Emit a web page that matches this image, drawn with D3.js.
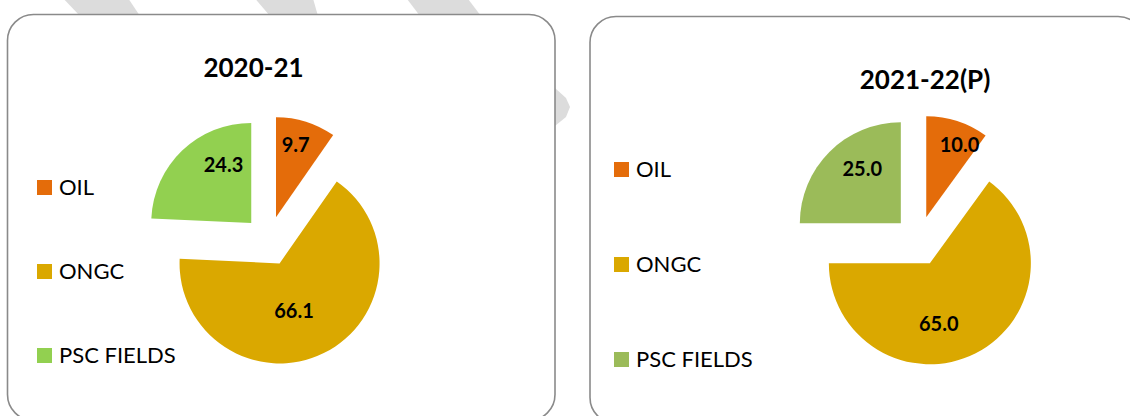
<!DOCTYPE html>
<html><head><meta charset="utf-8">
<script src="https://cdn.jsdelivr.net/npm/d3@7"></script>
<style>html,body{margin:0;padding:0;background:#fff;}svg{display:block;}</style>
</head><body>
<svg id="c" width="1130" height="416"></svg>
<script>
// ---- data ----
const categories = ["OIL", "ONGC", "PSC FIELDS"];
const years = ["2020-21", "2021-22(P)"];
const values2020 = [9.7, 66.1, 24.3];
const values2021 = [10.0, 65.0, 25.0];
const labels2020 = ["9.7", "66.1", "24.3"];
const labels2021 = ["10.0", "65.0", "25.0"];
const colors2020 = ["#E46C0A", "#DAA800", "#92D050"];
const colors2021 = ["#E46C0A", "#DAA800", "#9BBB59"];

// ---- layout ----
const panels = [
  {x: 7.5, y: 14.5, w: 547.5, h: 406, cx: 268.5, cy: 241, r: 100, explode: 25,
   title: years[0], titleX: 253.5, titleY: 76.5, values: values2020, labels: labels2020, colors: colors2020,
   labelPolar: [[15.8, 100], [160, 74.7], [329.5, 88.6]],
   legendX: 37, legendY0: 180, legendStep: 84},
  {x: 590, y: 16.5, w: 554, h: 407, cx: 918.5, cy: 241, r: 101, explode: 25,
   title: years[1], titleX: 925, titleY: 88.5, values: values2021, labels: labels2021, colors: colors2021,
   labelPolar: [[23.1, 104.6], [166.3, 85.6], [321.9, 91.2]],
   legendX: 614, legendY0: 162, legendStep: 95}
];

const svg = d3.select("#c");

// watermark-like grey dashes behind panels
const wm = [
  [[60,-5],[126,-5],[140,16],[80,16]],
  [[252,-5],[312,-5],[318,16],[270,16]],
  [[404,-5],[465,-5],[481,16],[420,16]],
  [[535,70],[566,98],[570,107],[566,117],[540,138]]
];
svg.selectAll("path.wm").data(wm).join("path").attr("class","wm")
  .attr("d", d => d3.line()(d) + "Z").attr("fill", "#dcdcdc");

const FONT = "Lato, 'Open Sans', sans-serif";

panels.forEach(p => {
  const g = svg.append("g");
  g.append("rect").attr("x", p.x).attr("y", p.y).attr("width", p.w).attr("height", p.h)
    .attr("rx", 26).attr("ry", 26).attr("fill", "#fff").attr("stroke", "#8a8a8a").attr("stroke-width", 1.6);

  g.append("text").attr("x", p.titleX).attr("y", p.titleY).attr("text-anchor", "middle")
    .attr("font-family", FONT).attr("font-weight", "bold").attr("font-size", 26).attr("fill", "#000")
    .text(p.title);

  const data = categories.map((c, i) => ({cat: c, value: p.values[i], label: p.labels[i], color: p.colors[i], lp: p.labelPolar[i]}));
  const pie = d3.pie().sort(null).value(d => d.value);
  const arc = d3.arc().innerRadius(0).outerRadius(p.r);
  const arcs = pie(data);

  const pg = g.append("g").attr("transform", `translate(${p.cx},${p.cy})`);
  pg.selectAll("path").data(arcs).join("path")
    .attr("d", arc)
    .attr("fill", d => d.data.color)
    .attr("transform", d => {
      const m = (d.startAngle + d.endAngle) / 2;
      return `translate(${p.explode * Math.sin(m)},${-p.explode * Math.cos(m)})`;
    });

  pg.selectAll("text").data(arcs).join("text")
    .attr("x", d => d.data.lp[1] * Math.sin(d.data.lp[0] * Math.PI / 180))
    .attr("y", d => -d.data.lp[1] * Math.cos(d.data.lp[0] * Math.PI / 180))
    .attr("dy", "0.36em")
    .attr("text-anchor", "middle")
    .attr("font-family", FONT).attr("font-weight", "bold").attr("font-size", 20).attr("fill", "#000")
    .text(d => d.data.label);

  const lg = g.append("g");
  const items = lg.selectAll("g").data(data).join("g")
    .attr("transform", (d, i) => `translate(${p.legendX},${p.legendY0 + i * p.legendStep})`);
  items.append("rect").attr("width", 15).attr("height", 15).attr("fill", d => d.color);
  items.append("text").attr("x", 22).attr("y", 15)
    .attr("font-family", FONT).attr("font-size", 22).attr("fill", "#000")
    .text(d => d.cat);
});
</script>
</body></html>
